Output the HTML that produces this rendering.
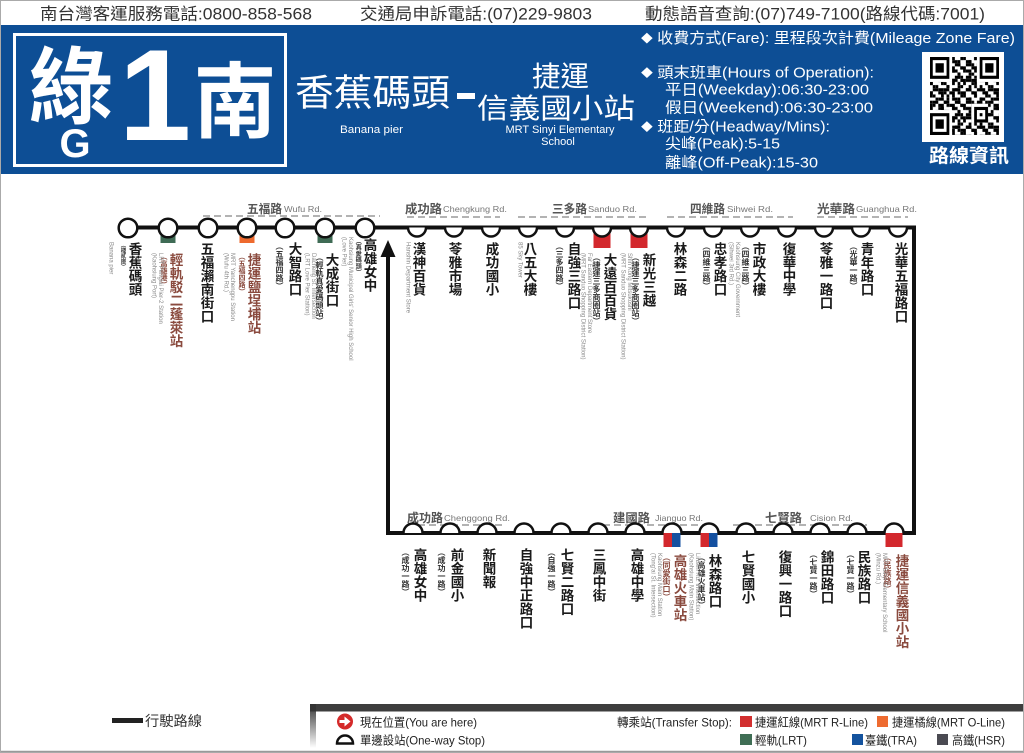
<!DOCTYPE html>
<html><head><meta charset="utf-8"><style>
html,body{margin:0;padding:0;background:#fff}
#w{position:relative;width:1024px;height:753px;overflow:hidden;background:#fff}
svg{position:absolute;left:0;top:0}
.v{position:absolute;writing-mode:vertical-rl;white-space:nowrap;line-height:1;font-family:"Liberation Sans","Noto Sans CJK TC",sans-serif}
.m{font-size:13.5px;font-weight:bold;color:#1a1a1a}
.s{font-size:8px;font-weight:bold;color:#333}
.e{font-size:6px;color:#8a8a8a;line-height:1.1}
.b{color:#8a4a3e}
</style></head><body><div id="w">
<svg width="1024" height="753" viewBox="0 0 1024 753" font-family="Liberation Sans, Noto Sans CJK TC, sans-serif">
<defs>
<path id="sd" d="M-9,0 A9,9 0 0 0 9,0" fill="#fff" stroke="#111" stroke-width="2.5"/>
<path id="su" d="M-9.5,0 A9.5,9.5 0 0 1 9.5,0" fill="#fff" stroke="#111" stroke-width="2.5"/>
<circle id="fc" r="9.3" fill="#fff" stroke="#111" stroke-width="2.5"/>
<pattern id="pa" width="4" height="4" patternUnits="userSpaceOnUse"><rect x="0" y="0" width="1" height="1"/><rect x="2" y="1" width="1" height="1"/><rect x="1" y="2" width="2" height="1"/><rect x="3" y="3" width="1" height="1"/><rect x="0" y="3" width="1" height="1"/></pattern>
<pattern id="pb" width="5" height="3" patternUnits="userSpaceOnUse"><rect x="1" y="0" width="1" height="1"/><rect x="3" y="1" width="2" height="1"/><rect x="0" y="2" width="1" height="1"/></pattern>
<linearGradient id="sh" x1="0" y1="0" x2="0" y2="1"><stop offset="0" stop-color="#333"/><stop offset="1" stop-color="#333" stop-opacity="0"/></linearGradient>
</defs>
<!-- header strip -->
<g fill="#333" font-size="16.5">
<text x="40" y="19.5" textLength="272" lengthAdjust="spacingAndGlyphs">南台灣客運服務電話:0800-858-568</text>
<text x="360" y="19.5" textLength="232" lengthAdjust="spacingAndGlyphs">交通局申訴電話:(07)229-9803</text>
<text x="645" y="19.5" textLength="340" lengthAdjust="spacingAndGlyphs">動態語音查詢:(07)749-7100(路線代碼:7001)</text>
</g>
<rect x="0" y="25" width="1024" height="149" fill="#0d4e95"/>
<rect x="14.5" y="34.5" width="271" height="131" fill="none" stroke="#fff" stroke-width="3"/>
<g fill="#fff">
<text x="71" y="117" font-size="84" font-weight="bold" text-anchor="middle" font-family="Noto Sans CJK TC, sans-serif">綠</text>
<text x="75" y="157" font-size="40" font-weight="bold" text-anchor="middle">G</text>
<text x="155" y="140" font-size="130" font-weight="bold" text-anchor="middle">1</text>
<text x="235" y="131" font-size="83" font-weight="bold" text-anchor="middle" font-family="Noto Sans CJK TC, sans-serif">南</text>
<text x="295" y="105.5" font-size="37" textLength="155" lengthAdjust="spacingAndGlyphs">香蕉碼頭</text>
<rect x="457" y="93" width="18" height="6"/>
<text x="340" y="133" font-size="11" textLength="63" lengthAdjust="spacingAndGlyphs">Banana pier</text>
<text x="532" y="86" font-size="28" textLength="57" lengthAdjust="spacingAndGlyphs">捷運</text>
<text x="477" y="118" font-size="28" textLength="158" lengthAdjust="spacingAndGlyphs">信義國小站</text>
<text x="560" y="133" font-size="11" text-anchor="middle">MRT Sinyi Elementary</text>
<text x="558" y="145" font-size="11" text-anchor="middle">School</text>
<g font-size="15">
<text x="641" y="43" textLength="374" lengthAdjust="spacingAndGlyphs"><tspan font-size="11" dy="-1">◆</tspan><tspan dy="1"> 收費方式(Fare): 里程段次計費(Mileage Zone Fare)</tspan></text>
<text x="641" y="77.5" textLength="233" lengthAdjust="spacingAndGlyphs"><tspan font-size="11" dy="-1">◆</tspan><tspan dy="1"> 頭末班車(Hours of Operation):</tspan></text>
<text x="665" y="94.5" textLength="204" lengthAdjust="spacingAndGlyphs">平日(Weekday):06:30-23:00</text>
<text x="665" y="112.5" textLength="208" lengthAdjust="spacingAndGlyphs">假日(Weekend):06:30-23:00</text>
<text x="641" y="131.5" textLength="189" lengthAdjust="spacingAndGlyphs"><tspan font-size="11" dy="-1">◆</tspan><tspan dy="1"> 班距/分(Headway/Mins):</tspan></text>
<text x="665" y="148.5" textLength="115" lengthAdjust="spacingAndGlyphs">尖峰(Peak):5-15</text>
<text x="665" y="167.5" textLength="153" lengthAdjust="spacingAndGlyphs">離峰(Off-Peak):15-30</text>
</g>
<rect x="922" y="52" width="82" height="90"/>
<text x="929" y="162" font-size="19" font-weight="bold" textLength="80" lengthAdjust="spacingAndGlyphs">路線資訊</text>
</g>
<!-- QR -->
<g transform="translate(930,57) scale(2.76,3.12)">
<rect x="0" y="0" width="25" height="25" fill="url(#pa)"/>
<rect x="0" y="0" width="25" height="25" fill="url(#pb)"/>
<g fill="#fff"><rect x="0" y="0" width="8" height="8"/><rect x="17" y="0" width="8" height="8"/><rect x="0" y="17" width="8" height="8"/><rect x="15" y="15" width="6" height="6"/></g>
<g fill="#000"><rect x="0" y="0" width="7" height="7"/><rect x="18" y="0" width="7" height="7"/><rect x="0" y="18" width="7" height="7"/><rect x="16" y="16" width="5" height="5"/></g>
<g fill="#fff"><rect x="1" y="1" width="5" height="5"/><rect x="19" y="1" width="5" height="5"/><rect x="1" y="19" width="5" height="5"/><rect x="17" y="17" width="3" height="3"/></g>
<g fill="#000"><rect x="2" y="2" width="3" height="3"/><rect x="20" y="2" width="3" height="3"/><rect x="2" y="20" width="3" height="3"/><rect x="18" y="18" width="1" height="1"/></g>
</g>
<!-- road labels -->
<g stroke="#9a9a9a" stroke-width="1.5" stroke-dasharray="7 4" fill="none">
<line x1="203" y1="216" x2="380" y2="216"/>
<line x1="407" y1="217" x2="500" y2="217"/>
<line x1="518" y1="217" x2="650" y2="217"/>
<line x1="667" y1="217" x2="793" y2="217"/>
<line x1="817" y1="217" x2="908" y2="217"/>
<line x1="407" y1="525" x2="503" y2="525"/>
<line x1="592" y1="525" x2="707" y2="525"/>
<line x1="733" y1="525" x2="867" y2="525"/>
</g>
<g font-size="12" font-weight="bold" fill="#555">
<text x="247" y="213" textLength="35" lengthAdjust="spacingAndGlyphs">五福路</text>
<text x="405" y="213" textLength="37" lengthAdjust="spacingAndGlyphs">成功路</text>
<text x="552" y="213" textLength="35" lengthAdjust="spacingAndGlyphs">三多路</text>
<text x="690" y="213" textLength="35" lengthAdjust="spacingAndGlyphs">四維路</text>
<text x="817" y="213" textLength="38" lengthAdjust="spacingAndGlyphs">光華路</text>
<text x="407" y="522" textLength="36" lengthAdjust="spacingAndGlyphs">成功路</text>
<text x="613" y="522" textLength="37" lengthAdjust="spacingAndGlyphs">建國路</text>
<text x="765" y="522" textLength="37" lengthAdjust="spacingAndGlyphs">七賢路</text>
</g>
<g font-size="8.5" fill="#777">
<text x="284" y="212" textLength="38" lengthAdjust="spacingAndGlyphs">Wufu Rd.</text>
<text x="443" y="212" textLength="64" lengthAdjust="spacingAndGlyphs">Chengkung Rd.</text>
<text x="588" y="212" textLength="49" lengthAdjust="spacingAndGlyphs">Sanduo Rd.</text>
<text x="727" y="212" textLength="46" lengthAdjust="spacingAndGlyphs">Sihwei  Rd.</text>
<text x="856" y="212" textLength="61" lengthAdjust="spacingAndGlyphs">Guanghua Rd.</text>
<text x="444" y="521" textLength="66" lengthAdjust="spacingAndGlyphs">Chenggong Rd.</text>
<text x="655" y="521" textLength="48" lengthAdjust="spacingAndGlyphs">Jianguo Rd.</text>
<text x="810" y="521" textLength="43" lengthAdjust="spacingAndGlyphs">Cision  Rd.</text>
</g>
<!-- route lines -->
<g stroke="#111" stroke-width="4" fill="none">
<line x1="128" y1="227.5" x2="916" y2="227.5"/>
<line x1="914" y1="225.5" x2="914" y2="535"/>
<line x1="386" y1="533" x2="916" y2="533"/>
<line x1="388" y1="535" x2="388" y2="252"/>
</g>
<polygon points="380.5,257 395.5,257 388,240" fill="#111"/>
<!-- transfer squares -->
<rect x="160.5" y="228" width="15" height="15" fill="#3f6b55"/>
<rect x="239.5" y="228" width="15" height="15" fill="#ee6a2e"/>
<rect x="317.5" y="228" width="15" height="15" fill="#3f6b55"/>
<rect x="593.5" y="228" width="17" height="20" fill="#d3282d"/>
<rect x="630.5" y="228" width="17" height="20" fill="#d3282d"/>
<rect x="663.5" y="533" width="8.5" height="14" fill="#d3282d"/>
<rect x="672" y="533" width="8.5" height="14" fill="#1450a0"/>
<rect x="700.5" y="533" width="8.5" height="14" fill="#d3282d"/>
<rect x="709" y="533" width="8.5" height="14" fill="#1450a0"/>
<rect x="885.5" y="533" width="17" height="14" fill="#d3282d"/>
<!-- stops -->
<use href="#fc" x="128" y="228"/><use href="#fc" x="168" y="228"/><use href="#fc" x="208" y="228"/><use href="#fc" x="247" y="228"/><use href="#fc" x="285" y="228"/><use href="#fc" x="325" y="228"/><use href="#fc" x="365" y="228"/>
<use href="#sd" x="417" y="227.5"/><use href="#sd" x="454" y="227.5"/><use href="#sd" x="491" y="227.5"/><use href="#sd" x="528" y="227.5"/><use href="#sd" x="565" y="227.5"/><use href="#sd" x="602" y="227.5"/><use href="#sd" x="639" y="227.5"/><use href="#sd" x="676" y="227.5"/><use href="#sd" x="713" y="227.5"/><use href="#sd" x="750" y="227.5"/><use href="#sd" x="787" y="227.5"/><use href="#sd" x="824" y="227.5"/><use href="#sd" x="861" y="227.5"/><use href="#sd" x="898" y="227.5"/>
<use href="#su" x="413" y="533"/><use href="#su" x="450" y="533"/><use href="#su" x="487" y="533"/><use href="#su" x="524" y="533"/><use href="#su" x="561" y="533"/><use href="#su" x="598" y="533"/><use href="#su" x="635" y="533"/><use href="#su" x="672" y="533"/><use href="#su" x="709" y="533"/><use href="#su" x="746" y="533"/><use href="#su" x="783" y="533"/><use href="#su" x="820" y="533"/><use href="#su" x="857" y="533"/><use href="#su" x="894" y="533"/>
<!-- legend -->
<rect x="112" y="718" width="31" height="5" fill="#222"/>
<text x="145" y="726" font-size="14" fill="#333" textLength="57" lengthAdjust="spacingAndGlyphs">行駛路線</text>
<rect x="310" y="704" width="714" height="7.5" fill="#3d3d3d"/>
<rect x="310" y="704" width="6" height="44" fill="url(#sh)"/>
<circle cx="345" cy="721.5" r="8" fill="#d42a2a"/>
<polygon points="339.5,720 344.5,720 344.5,716.5 350.5,721.5 344.5,726.5 344.5,723 339.5,723" fill="#fff"/>
<path d="M337,743.5 A8,8 0 0 1 353,743.5 Z" fill="#fff" stroke="#111" stroke-width="2.5"/>
<g font-size="12" fill="#222">
<text x="360" y="726.5" textLength="117" lengthAdjust="spacingAndGlyphs">現在位置(You are here)</text>
<text x="360" y="744.5" textLength="125" lengthAdjust="spacingAndGlyphs">單邊設站(One-way Stop)</text>
<text x="617" y="726.5" textLength="115" lengthAdjust="spacingAndGlyphs">轉乘站(Transfer Stop):</text>
<text x="755" y="726.5" textLength="113" lengthAdjust="spacingAndGlyphs">捷運紅線(MRT R-Line)</text>
<text x="892" y="726.5" textLength="113" lengthAdjust="spacingAndGlyphs">捷運橘線(MRT O-Line)</text>
<text x="755" y="744.5" textLength="52" lengthAdjust="spacingAndGlyphs">輕軌(LRT)</text>
<text x="865" y="744.5" textLength="52" lengthAdjust="spacingAndGlyphs">臺鐵(TRA)</text>
<text x="952" y="744.5" textLength="53" lengthAdjust="spacingAndGlyphs">高鐵(HSR)</text>
</g>
<rect x="740" y="716" width="12" height="11" fill="#d22f2f"/>
<rect x="877" y="716" width="11" height="11" fill="#ee6b30"/>
<rect x="740" y="734" width="12" height="11" fill="#3f6e55"/>
<rect x="852" y="734" width="11" height="11" fill="#14539e"/>
<rect x="937" y="734" width="11" height="11" fill="#4a4a52"/>
<line x1="0" y1="751.8" x2="1024" y2="751.8" stroke="#999" stroke-width="2"/>
<rect x="0.5" y="0.5" width="1023" height="752" fill="none" stroke="#aaa" stroke-width="1"/>
</svg>

<!-- top left stations -->
<div class="v m" style="left:127px;top:242px">香蕉碼頭</div>
<div class="v s" style="left:119px;top:242px;font-size:5.5px">（棧貳庫）</div>
<div class="v e" style="left:107px;top:242px">Banana pier</div>

<div class="v m b" style="left:168px;top:253px">輕軌駁二蓬萊站</div>
<div class="v s b" style="left:160px;top:253px;font-size:7px">（高雄港）</div>
<div class="v e" style="left:150px;top:253px">LRT Penglai Pier-2 Station<br>(Kaohsiung Port)</div>

<div class="v m" style="left:199px;top:242px">五福瀨南街口</div>

<div class="v m b" style="left:246px;top:253px">捷運鹽埕埔站</div>
<div class="v s b" style="left:238px;top:253px;font-size:7px">（五福四路）</div>
<div class="v e" style="left:222px;top:253px">MRT Yanchengpu Station<br>(Wufu 4th Rd.)</div>

<div class="v m" style="left:287px;top:242px">大智路口</div>
<div class="v s" style="left:275px;top:242px">（五福四路）</div>

<div class="v m" style="left:324px;top:253px">大成街口</div>
<div class="v s" style="left:315px;top:253px">（輕軌真愛碼頭站）</div>
<div class="v e" style="left:303px;top:253px">Dacheng St. Intersection<br>(LRT Love Pier Station)</div>

<div class="v m" style="left:362px;top:238px">高雄女中</div>
<div class="v s" style="left:354px;top:238px;font-size:6.2px">（真愛碼頭）</div>
<div class="v e" style="left:340px;top:237px">Kaohsiung Municipal Girls' Senior High School<br>(Love Pier)</div>

<!-- top right stations -->
<div class="v m" style="left:411px;top:242px">漢神百貨</div>
<div class="v e" style="left:404px;top:242px">Hanshin Department Store</div>
<div class="v m" style="left:447px;top:242px">苓雅市場</div>
<div class="v m" style="left:484px;top:242px">成功國小</div>
<div class="v m" style="left:522px;top:242px">八五大樓</div>
<div class="v e" style="left:516px;top:242px">85 Sky Tower</div>
<div class="v m" style="left:566px;top:242px">自強三路口</div>
<div class="v s" style="left:555px;top:242px">（三多四路）</div>

<div class="v m" style="left:602px;top:253px">大遠百百貨</div>
<div class="v s" style="left:592px;top:253px">（捷運三多商圈站）</div>
<div class="v e" style="left:579px;top:253px">Far Eastern Department Store<br>(MRT Sanduo Shopping District Station)</div>

<div class="v m" style="left:641px;top:253px">新光三越</div>
<div class="v s" style="left:631px;top:253px">（捷運三多商圈站）</div>
<div class="v e" style="left:619px;top:253px">Shin Kong Mitsukoshi<br>(MRT Sanduo Shopping District Station)</div>

<div class="v m" style="left:672px;top:242px">林森二路</div>
<div class="v m" style="left:712px;top:242px">忠孝路口</div>
<div class="v s" style="left:702px;top:242px">（四維三路）</div>
<div class="v m" style="left:751px;top:242px">市政大樓</div>
<div class="v s" style="left:741px;top:242px">（四維三路）</div>
<div class="v e" style="left:727px;top:242px">Kaohsiung City Government<br>(Sihwei 3rd Rd.)</div>
<div class="v m" style="left:781px;top:242px">復華中學</div>
<div class="v m" style="left:818px;top:242px">苓雅一路口</div>
<div class="v m" style="left:859px;top:242px">青年路口</div>
<div class="v s" style="left:849px;top:242px">（光華一路）</div>
<div class="v m" style="left:893px;top:242px">光華五福路口</div>

<!-- bottom stations -->
<div class="v m" style="left:412px;top:548px">高雄女中</div>
<div class="v s" style="left:401px;top:548px">（成功一路）</div>
<div class="v m" style="left:449px;top:548px">前金國小</div>
<div class="v s" style="left:437px;top:548px">（成功一路）</div>
<div class="v m" style="left:481px;top:548px">新聞報</div>
<div class="v m" style="left:518px;top:548px">自強中正路口</div>
<div class="v m" style="left:559px;top:548px">七賢二路口</div>
<div class="v s" style="left:547px;top:548px">（自強一路）</div>
<div class="v m" style="left:591px;top:548px">三鳳中街</div>
<div class="v m" style="left:629px;top:548px">高雄中學</div>

<div class="v m b" style="left:672px;top:554px">高雄火車站</div>
<div class="v s b" style="left:662px;top:553px">（同愛街口）</div>
<div class="v e" style="left:649px;top:553px">Kaohsiung Main Station<br>(Tong'ai St. Intersection)</div>

<div class="v m" style="left:707px;top:554px">林森路口</div>
<div class="v s" style="left:697px;top:553px">（高雄火車站）</div>
<div class="v e" style="left:687px;top:553px">Linsen Rd. Intersection<br>(Kaohsiung Main Station)</div>

<div class="v m" style="left:740px;top:550px">七賢國小</div>
<div class="v m" style="left:777px;top:550px">復興一路口</div>
<div class="v m" style="left:819px;top:550px">錦田路口</div>
<div class="v s" style="left:809px;top:550px">（七賢一路）</div>
<div class="v m" style="left:856px;top:550px">民族路口</div>
<div class="v s" style="left:846px;top:550px">（七賢一路）</div>

<div class="v m b" style="left:894px;top:554px">捷運信義國小站</div>
<div class="v s b" style="left:883px;top:553px">（民族路）</div>
<div class="v e" style="left:874px;top:553px">MRT Sinyi Elementary School<br>(Minzu Rd.)</div>
</div></body></html>
